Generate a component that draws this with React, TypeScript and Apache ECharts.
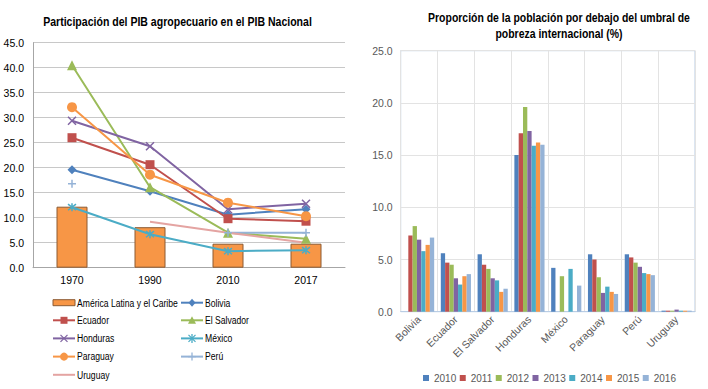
import React, { useEffect, useRef } from "react";
import * as echarts from "echarts";

const years = ["1970", "1990", "2010", "2017"];
const latam = [12.2, 8.1, 4.8, 4.8];
const bolivia = [19.6, 15.3, 10.6, 11.7];
const ecuador = [26.0, 20.6, 9.8, 9.3];
const elSalvador = [40.5, 16.1, 7.0, 5.8];
const honduras = [29.4, 24.3, 11.7, 12.8];
const mexico = [12.1, 6.7, 3.3, 3.5];
const paraguay = [32.1, 18.6, 13.0, 10.3];
const peru = [16.8, null, 7.0, 7.0];
const uruguay = [null, 9.2, 7.0, 5.0];
const pibTicks = [0, 45, 5];

const countries = ["Bolivia", "Ecuador", "El Salvador", "Honduras", "México", "Paraguay", "Perú", "Uruguay"];
const povYears = ["2010", "2011", "2012", "2013", "2014", "2015", "2016"];
const pov2010 = [null, 5.6, 5.5, 15.0, 4.2, 5.5, 5.5, 0.1];
const pov2011 = [7.3, 4.7, 4.5, 17.1, null, 5.0, 5.2, 0.1];
const pov2012 = [8.2, 4.5, 4.1, 19.6, 3.4, 3.3, 4.7, 0.1];
const pov2013 = [6.9, 3.2, 3.2, 17.3, null, 1.8, 4.3, 0.2];
const pov2014 = [5.8, 2.6, 3.0, 15.9, 4.1, 2.4, 3.7, 0.1];
const pov2015 = [6.4, 3.4, 1.9, 16.2, null, 1.9, 3.6, 0.1];
const pov2016 = [7.1, 3.6, 2.2, 16.0, 2.5, 1.7, 3.5, 0.1];
const povTicks = [0, 25, 5];

const titleLeft = "Participación del PIB agropecuario en el PIB Nacional";
const titleRight1 = "Proporción de la población por debajo del umbral de";
const titleRight2 = "pobreza internacional (%)";

const FONT = "'Liberation Sans', Arial, sans-serif";

function measure(text: string, font: string): number {
  const c = document.createElement("canvas").getContext("2d");
  if (!c) return text.length * 6;
  c.font = font;
  return c.measureText(text).width;
}

export default function App() {
  const ref = useRef<HTMLDivElement>(null);
  useEffect(() => {
    if (!ref.current) return;
    const chart = echarts.init(ref.current, null, { renderer: "svg" });
    const povData = [pov2010, pov2011, pov2012, pov2013, pov2014, pov2015, pov2016];
    const povColors = ["#4F81BD", "#C0504D", "#9BBB59", "#8064A2", "#4BACC6", "#F79646", "#95B3D7"];

    const lineDefs = [
      { name: "Bolivia", data: bolivia, color: "#4F81BD", mk: "diamond" },
      { name: "Ecuador", data: ecuador, color: "#C0504D", mk: "rect" },
      { name: "El Salvador", data: elSalvador, color: "#9BBB59", mk: "triangle" },
      { name: "Honduras", data: honduras, color: "#8064A2", mk: "x" },
      { name: "México", data: mexico, color: "#4BACC6", mk: "star" },
      { name: "Paraguay", data: paraguay, color: "#F79646", mk: "circle" },
      { name: "Perú", data: peru, color: "#95B3D7", mk: "plus" },
      { name: "Uruguay", data: uruguay, color: "#E4A4A2", mk: "none" },
    ];
    const symbolOf: any = {
      diamond: ["diamond", 9],
      rect: ["rect", 9],
      triangle: ["triangle", 10],
      x: ["path://M0,0L10,10M10,0L0,10", 8],
      star: ["path://M0,0L10,10M10,0L0,10M5,-1.5L5,11.5", 8],
      circle: ["circle", 10],
      plus: ["path://M5,0L5,10M0,5L10,5", 8],
      none: ["none", 0],
    };
    const stroked = (mk: string) => mk === "x" || mk === "star" || mk === "plus";

    // ---------- titles (narrow font emulation via scaleX) ----------
    const bold12 = "bold 12px 'Liberation Sans'";
    const sT1 = 269 / measure(titleLeft, bold12);
    const sT2 = 262 / measure(titleRight1, bold12);
    const titleText = (text: string, x: number, y: number, s: number) => ({
      type: "text",
      x,
      y,
      scaleX: s,
      style: {
        text,
        fill: "#000",
        fontSize: 12,
        fontWeight: "bold",
        fontFamily: "Liberation Sans",
        align: "center",
        verticalAlign: "middle",
      },
    });

    // ---------- left legend ----------
    const legFont = "11px 'Liberation Sans'";
    const sL = 101 / measure("América Latina y el Caribe", legFont);
    const legendItems = [
      { name: "América Latina y el Caribe", color: "#F79646", mk: "bar" },
      ...lineDefs.map((d) => ({ name: d.name, color: d.color, mk: d.mk })),
    ];
    const rowY = [302.7, 320.3, 338.4, 356.6, 374.8];
    const colX = [53, 181];
    const legendGraphics: any[] = [];
    legendItems.forEach((it, i) => {
      const col = i % 2;
      const row = Math.floor(i / 2);
      const x0 = colX[col];
      const cy = rowY[row];
      const cx = x0 + 11;
      const c = it.color;
      if (it.mk === "bar") {
        legendGraphics.push({
          type: "rect",
          shape: { x: x0, y: cy - 3, width: 22, height: 6 },
          style: { fill: "#F79646", stroke: "#8C5B33", lineWidth: 1 },
        });
      } else {
        legendGraphics.push({
          type: "line",
          shape: { x1: x0, y1: cy, x2: x0 + 22, y2: cy },
          style: { stroke: c, lineWidth: 2 },
        });
        const seg = (x1: number, y1: number, x2: number, y2: number) =>
          legendGraphics.push({ type: "line", shape: { x1, y1, x2, y2 }, style: { stroke: c, lineWidth: 1.3 } });
        if (it.mk === "diamond")
          legendGraphics.push({
            type: "polygon",
            shape: { points: [[cx, cy - 4], [cx + 3.5, cy], [cx, cy + 4], [cx - 3.5, cy]] },
            style: { fill: c },
          });
        if (it.mk === "rect")
          legendGraphics.push({ type: "rect", shape: { x: cx - 3.5, y: cy - 3.5, width: 7, height: 7 }, style: { fill: c } });
        if (it.mk === "triangle")
          legendGraphics.push({
            type: "polygon",
            shape: { points: [[cx, cy - 4], [cx + 4, cy + 3.5], [cx - 4, cy + 3.5]] },
            style: { fill: c },
          });
        if (it.mk === "circle") legendGraphics.push({ type: "circle", shape: { cx, cy, r: 4 }, style: { fill: c } });
        if (it.mk === "x" || it.mk === "star") {
          seg(cx - 3.5, cy - 3.5, cx + 3.5, cy + 3.5);
          seg(cx + 3.5, cy - 3.5, cx - 3.5, cy + 3.5);
        }
        if (it.mk === "star") seg(cx, cy - 4.5, cx, cy + 4.5);
        if (it.mk === "plus") {
          seg(cx, cy - 4, cx, cy + 4);
          seg(cx - 4, cy, cx + 4, cy);
        }
      }
      legendGraphics.push({
        type: "text",
        x: x0 + 24,
        y: cy,
        scaleX: sL,
        style: {
          text: it.name,
          fill: "#000",
          fontSize: 11,
          fontFamily: "Liberation Sans",
          align: "left",
          verticalAlign: "middle",
        },
      });
    });

    const option: any = {
      animation: false,
      textStyle: { fontFamily: FONT },
      graphic: [
        titleText(titleLeft, 177.5, 22, sT1),
        titleText(titleRight1, 559, 18, sT2),
        titleText(titleRight2, 559, 33.5, sT2),
        ...legendGraphics,
      ],
      legend: [
        {
          orient: "horizontal",
          left: 418,
          top: 368,
          itemWidth: 6,
          itemHeight: 6,
          itemGap: 3.5,
          icon: "rect",
          textStyle: { fontSize: 10, color: "#595959", fontFamily: FONT },
          data: povYears,
        },
      ],
      grid: [
        { left: 33, top: 42.7, width: 312, height: 225, containLabel: false },
        {
          left: 400.7,
          top: 50.7,
          width: 294.3,
          height: 261,
          containLabel: false,
          show: true,
          borderColor: "#B9CDE5",
          borderWidth: 1,
        },
      ],
      xAxis: [
        {
          type: "category",
          gridIndex: 0,
          data: years,
          axisLine: { lineStyle: { color: "#A6A6A6" } },
          axisTick: { show: false },
          axisLabel: { fontSize: 10.5, color: "#000", margin: 7, fontFamily: FONT },
        },
        {
          type: "category",
          gridIndex: 1,
          data: countries,
          axisLine: { lineStyle: { color: "#B9CDE5" } },
          axisTick: { show: false },
          splitLine: { show: true, lineStyle: { color: "#E3E3E3" } },
          axisLabel: { fontSize: 10.5, color: "#595959", rotate: 45, margin: 6, interval: 0, fontFamily: FONT },
        },
      ],
      yAxis: [
        {
          type: "value",
          gridIndex: 0,
          min: pibTicks[0],
          max: pibTicks[1],
          interval: pibTicks[2],
          axisLine: { show: true, lineStyle: { color: "#A6A6A6" } },
          axisTick: { show: false },
          splitLine: { lineStyle: { color: "#C8C8C8" } },
          axisLabel: { fontSize: 10.5, color: "#000", margin: 9, formatter: (v: number) => v.toFixed(1), fontFamily: FONT },
        },
        {
          type: "value",
          gridIndex: 1,
          min: povTicks[0],
          max: povTicks[1],
          interval: povTicks[2],
          axisLine: { show: false },
          axisTick: { show: false },
          splitLine: { lineStyle: { color: "#E3E3E3" } },
          axisLabel: { fontSize: 10.5, color: "#595959", margin: 8, formatter: (v: number) => v.toFixed(1), fontFamily: FONT },
        },
      ],
      series: [
        {
          type: "bar",
          name: "América Latina y el Caribe",
          data: latam,
          xAxisIndex: 0,
          yAxisIndex: 0,
          barWidth: 31,
          itemStyle: { color: "#F79646", borderColor: "#8C5B33", borderWidth: 1 },
          z: 2,
        },
        ...lineDefs.map((d) => ({
          type: "line",
          name: d.name,
          data: d.data,
          xAxisIndex: 0,
          yAxisIndex: 0,
          symbol: symbolOf[d.mk][0],
          symbolSize: symbolOf[d.mk][1],
          showSymbol: d.mk !== "none",
          lineStyle: { color: d.color, width: 2 },
          itemStyle: stroked(d.mk) ? { color: d.color, borderColor: d.color, borderWidth: 1.5 } : { color: d.color },
          z: 3,
        })),
        ...povYears.map((y, i) => ({
          type: "bar",
          name: y,
          data: povData[i],
          xAxisIndex: 1,
          yAxisIndex: 1,
          barGap: "0%",
          barCategoryGap: "18%",
          itemStyle: { color: povColors[i] },
        })),
      ],
    };
    chart.setOption(option);
    return () => chart.dispose();
  }, []);
  return (
    <div
      ref={ref}
      style={{ position: "fixed", left: 0, top: 0, width: 708, height: 389, background: "#fff" }}
    />
  );
}
